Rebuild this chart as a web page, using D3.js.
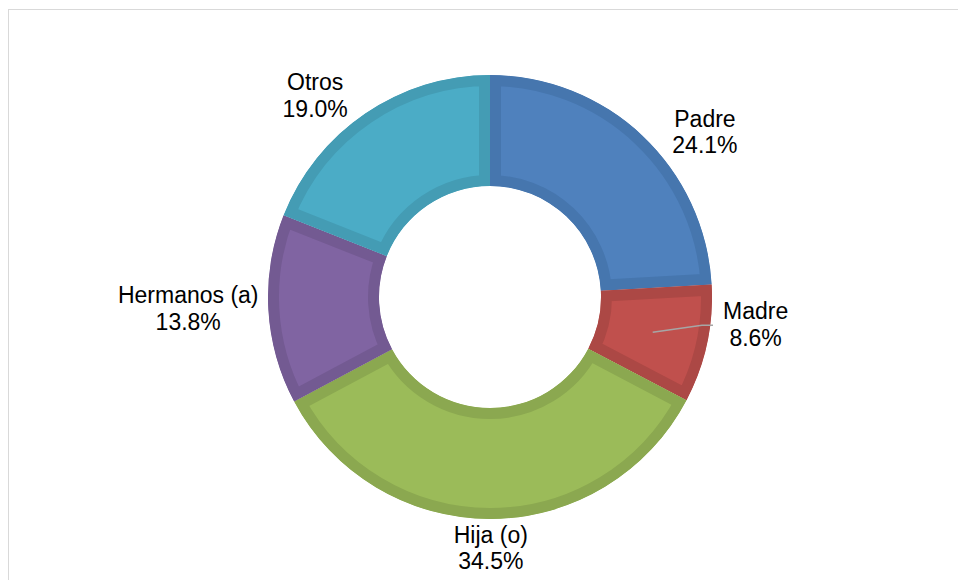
<!DOCTYPE html>
<html><head><meta charset="utf-8">
<script src="https://cdn.jsdelivr.net/npm/d3@7"></script>
<style>body{margin:0;background:#fff}svg{display:block}</style>
</head><body>
<svg id="c" width="958" height="580"></svg>
<script>
const categories = ["Padre", "Madre", "Hija (o)", "Hermanos (a)", "Otros"];
const values = [24.1, 8.6, 34.5, 13.8, 19.0];
const fillColors = ["#4F81BD", "#C0504D", "#9BBB59", "#8064A2", "#4BACC6"];
const bandColors = ["#4676AE", "#AC4845", "#8BA850", "#735A92", "#449CB4"];
// label placement: angle shift (deg) from slice mid-angle, distance from centre
const labelAngleShift = [9.1, -6.4, 0, 1.1, -6.7];
const labelDistance = [271, 267, 251, 302, 267];
const leaderLines = [false, true, false, false, false];

const svg = d3.select("#c");
const W = 958, H = 580;
svg.append("rect").attr("x", 8.5).attr("y", 9.5).attr("width", 1000).attr("height", 1000)
  .attr("fill", "#fff").attr("stroke", "#D9D9D9").attr("stroke-width", 1);

const cx = 490, cy = 297, rOuter = 222, rInner = 111;
const g = svg.append("g").attr("transform", `translate(${cx},${cy})`);
const pie = d3.pie().sort(null).value(d => d.v);
const data = pie(categories.map((c, i) => ({c, v: values[i], i})));
const arc = d3.arc().innerRadius(rInner).outerRadius(rOuter);

const defs = svg.append("defs");
data.forEach((d, i) => {
  defs.append("clipPath").attr("id", "clip" + i).append("path").attr("d", arc(d));
});
g.selectAll("path.slice").data(data).join("path")
  .attr("class", "slice")
  .attr("d", arc)
  .attr("fill", d => fillColors[d.index])
  .attr("stroke", d => bandColors[d.index])
  .attr("stroke-width", 22)
  .attr("stroke-linejoin", "miter")
  .attr("clip-path", d => `url(#clip${d.index})`);

const fmt = d3.format(".1f");
const font = "'Liberation Sans', Arial, sans-serif";
data.forEach((d, i) => {
  const mid = (d.startAngle + d.endAngle) / 2 + labelAngleShift[i] * Math.PI / 180;
  const r = labelDistance[i];
  const x = r * Math.sin(mid), y = -r * Math.cos(mid);
  const t = g.append("text").attr("text-anchor", "middle")
    .attr("font-family", font).attr("font-size", 23).attr("fill", "#000");
  t.append("tspan").attr("x", x).attr("y", y - 5).text(categories[i]);
  t.append("tspan").attr("x", x).attr("y", y + 21.5).text(fmt(values[i]) + "%");
  if (leaderLines[i]) {
    const c = arc.centroid(d);
    const bb = t.node().getBBox();
    const ex = bb.x - 10, ey = y + 1;
    g.append("path")
      .attr("d", d3.line()([[c[0], c[1]], [ex - 11, ey], [ex, ey]]))
      .attr("fill", "none").attr("stroke", "#A6A6A6").attr("stroke-width", 1.5);
  }
});
</script>
</body></html>
